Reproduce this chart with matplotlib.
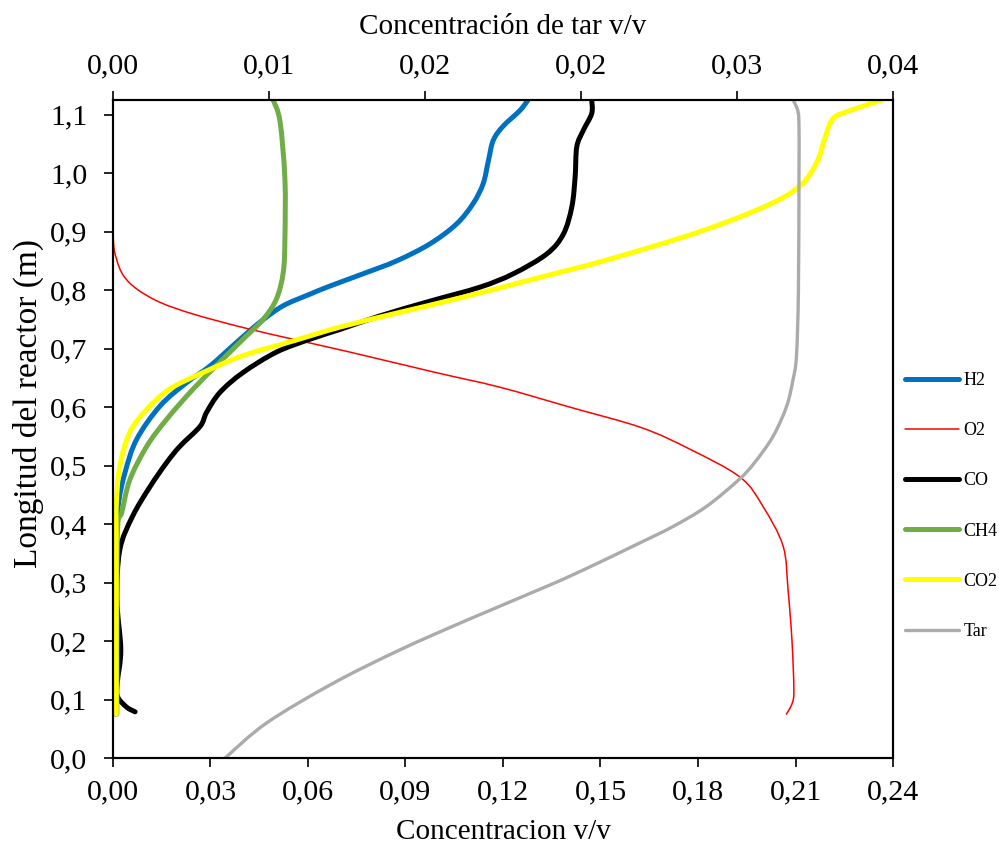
import matplotlib
matplotlib.use('Agg')
import matplotlib.pyplot as plt
from matplotlib.ticker import FuncFormatter
from matplotlib.path import Path
from matplotlib.patches import PathPatch
from matplotlib.lines import Line2D

plt.rcParams['font.family'] = ['Liberation Serif', 'DejaVu Serif']

# Data (y = reactor length in m)
h2_y = [0.075, 0.2, 0.35, 0.43, 0.488, 0.545, 0.602, 0.642, 0.670, 0.711, 0.745, 0.773,
        0.793, 0.807, 0.828, 0.850, 0.879, 0.913, 0.948, 0.982, 1.021, 1.056, 1.080,
        1.107, 1.125]
h2_x = [0.0008, 0.0008, 0.0010, 0.0016, 0.0037, 0.0073, 0.0145, 0.0227, 0.0298, 0.0381, 0.0452, 0.0523,
        0.0606, 0.0668, 0.0770, 0.0873, 0.0975, 0.1057, 0.1108, 0.1139, 0.1155, 0.1170, 0.1200,
        0.1252, 0.1277]

o2_y = [0.075, 0.094, 0.117, 0.202, 0.288, 0.362, 0.430, 0.48, 0.528, 0.565, 0.600, 0.634, 0.660,
        0.694, 0.716, 0.736, 0.759, 0.779, 0.802, 0.825, 0.853, 0.888, 1.0, 1.125]
o2_x = [0.2072, 0.2090, 0.2095, 0.2089, 0.2077, 0.2062, 0.2000, 0.1930, 0.1775, 0.1625, 0.1405, 0.1190, 0.0986,
        0.0729, 0.0554, 0.0400, 0.0247, 0.0145, 0.0073, 0.0032, 0.0011, 0.0001, 0.0, 0.0]

co_y = [0.079, 0.087, 0.105, 0.128, 0.185, 0.271, 0.356, 0.413, 0.464, 0.505, 0.533, 0.567,
        0.591, 0.625, 0.659, 0.694, 0.716, 0.733, 0.756, 0.781, 0.805, 0.828, 0.862, 0.896,
        0.943, 0.994, 1.045, 1.073, 1.102, 1.125]
co_x = [0.0068, 0.0042, 0.0014, 0.0013, 0.0024, 0.0012, 0.0021, 0.0060, 0.0114, 0.0165, 0.0206, 0.0268,
        0.0288, 0.0329, 0.0400, 0.0503, 0.0606, 0.0700, 0.0822, 0.0975, 0.1129, 0.1232, 0.1335, 0.1386,
        0.1412, 0.1422, 0.1427, 0.1447, 0.1473, 0.1473]

ch4_y = [0.075, 0.3, 0.40, 0.42, 0.476, 0.533, 0.579, 0.631, 0.677, 0.716, 0.750, 0.785,
         0.831, 0.888, 0.990, 1.088, 1.125]
ch4_x = [0.0012, 0.0012, 0.0015, 0.0027, 0.0052, 0.0104, 0.0165, 0.0247, 0.0329, 0.0400, 0.0462, 0.0503,
         0.0524, 0.0529, 0.0529, 0.0514, 0.0493]

co2_y = [0.075, 0.35, 0.43, 0.499, 0.557, 0.596, 0.631, 0.659, 0.688, 0.713, 0.737, 0.762,
         0.788, 0.824, 0.853, 0.9, 0.944, 0.978, 1.019, 1.059, 1.093, 1.107, 1.125]
co2_x = [0.0010, 0.0010, 0.0010, 0.0021, 0.0052, 0.0104, 0.0175, 0.0277, 0.0400, 0.0554, 0.0700, 0.0883,
         0.1078, 0.1330, 0.1529, 0.1806, 0.2010, 0.2114, 0.2166, 0.2190, 0.2215, 0.2268, 0.2366]

# Tar goes on the secondary (top) axis
tar_y = [0.0, 0.06, 0.128, 0.185, 0.236, 0.296, 0.327, 0.368, 0.396, 0.430, 0.476, 0.505,
         0.550, 0.602, 0.648, 0.688, 0.80, 1.0, 1.076, 1.105, 1.125]
tar_x = [0.00575, 0.00788, 0.0113, 0.01472, 0.01817, 0.02242, 0.02447, 0.02703, 0.02873, 0.03043, 0.03210, 0.03290,
         0.03385, 0.03455, 0.03488, 0.03505, 0.03515, 0.03518, 0.03518, 0.03513, 0.03488]

bottom_ticks = [0.0, 0.03, 0.06, 0.09, 0.12, 0.15, 0.18, 0.21, 0.24]
top_ticks = [0.0, 0.008, 0.016, 0.024, 0.032, 0.04]
y_ticks = [0.0, 0.1, 0.2, 0.3, 0.4, 0.5, 0.6, 0.7, 0.8, 0.9, 1.0, 1.1]


def comma_fmt(decimals):
    return FuncFormatter(lambda v, pos: f"{v:.{decimals}f}".replace('.', ','))


# smoothed line like Excel: cubic bezier through the points (Catmull-Rom control points)
def smooth_path(xs, ys):
    pts = list(zip(xs, ys))
    n = len(pts)
    verts = [pts[0]]
    codes = [Path.MOVETO]
    for i in range(n - 1):
        p0 = pts[max(i - 1, 0)]
        p1 = pts[i]
        p2 = pts[i + 1]
        p3 = pts[min(i + 2, n - 1)]
        c1 = (p1[0] + (p2[0] - p0[0]) / 6, p1[1] + (p2[1] - p0[1]) / 6)
        c2 = (p2[0] - (p3[0] - p1[0]) / 6, p2[1] - (p3[1] - p1[1]) / 6)
        verts += [c1, c2, p2]
        codes += [Path.CURVE4] * 3
    return Path(verts, codes)


def add_series(axis, xs, ys, color, lw, label):
    axis.add_patch(PathPatch(smooth_path(xs, ys), fill=False, edgecolor=color, lw=lw,
                             capstyle='round', joinstyle='round'))
    return Line2D([], [], color=color, lw=lw, label=label, solid_capstyle='round')


fig = plt.figure(figsize=(9.99, 8.46), dpi=100)
ax = fig.add_axes([0.1131, 0.104, 0.7808, 0.7778])

handles = []
handles.append(add_series(ax, h2_x, h2_y, '#0070C0', 3.6, 'H2'))
handles.append(add_series(ax, o2_x, o2_y, '#FF0000', 1.1, 'O2'))
handles.append(add_series(ax, co_x, co_y, 'black', 3.6, 'CO'))
handles.append(add_series(ax, ch4_x, ch4_y, '#70AD47', 3.6, 'CH4'))
handles.append(add_series(ax, co2_x, co2_y, '#FFFF00', 3.6, 'CO2'))

ax.set_xlim(0, 0.24)
ax.set_ylim(0, 1.125)
ax.set_xticks(bottom_ticks)
ax.set_yticks(y_ticks)
ax.xaxis.set_major_formatter(comma_fmt(2))
ax.yaxis.set_major_formatter(comma_fmt(1))
ax.tick_params(labelsize=21.5, length=6.5, width=1.2, direction='out')
ax.tick_params(axis='x', pad=9)
ax.tick_params(axis='y', pad=12)
ax.set_xlabel('Concentracion v/v', fontsize=21, labelpad=10)
ax.set_ylabel('Longitud del reactor (m)', fontsize=24)
ax.yaxis.set_label_coords(-0.088, 0.539)

ax2 = ax.twiny()
handles.append(add_series(ax2, tar_x, tar_y, '#ABABAB', 2.4, 'Tar'))
ax2.set_xlim(0, 0.04)
ax2.set_ylim(0, 1.125)
ax2.set_xticks(top_ticks)
ax2.xaxis.set_major_formatter(comma_fmt(2))
ax2.tick_params(labelsize=21.5, length=6.5, width=1.2, direction='out', pad=8)
ax2.set_xlabel('Concentración de tar v/v', fontsize=21, labelpad=14)

for a in (ax, ax2):
    for sp in a.spines.values():
        sp.set_linewidth(1.5)

fig.legend(handles=handles, loc='center left', bbox_to_anchor=(0.906, 0.402),
           frameon=False, fontsize=13, handlelength=3.0, handletextpad=0.22,
           labelspacing=1.84, borderpad=0, borderaxespad=0)

fig.savefig('out.png', dpi=100)
